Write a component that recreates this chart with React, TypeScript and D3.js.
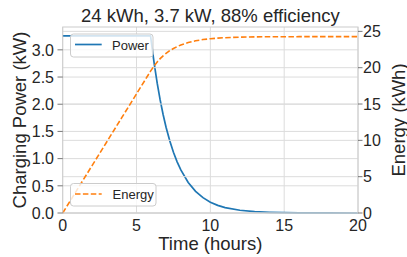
import React from "react";
import * as d3 from "d3";

const titleText = "24 kWh, 3.7 kW, 88% efficiency";
const timeHours = [0, 1, 2, 3, 4, 5, 5.95, 6.2, 6.4, 6.6, 6.8, 7, 7.25, 7.5, 7.75, 8, 8.5, 9, 9.5, 10, 10.5, 11, 12, 13, 14, 15, 16, 18, 20];
const powerKW = [3.256, 3.256, 3.256, 3.256, 3.256, 3.256, 3.256, 2.74, 2.387, 2.08, 1.812, 1.578, 1.328, 1.118, 0.941, 0.792, 0.561, 0.397, 0.282, 0.199, 0.141, 0.1, 0.05, 0.025, 0.013, 0.006, 0.003, 0.001, 0.0];
const energyKWh = [0, 3.28, 6.56, 9.84, 13.12, 16.4, 19.52, 20.27, 20.79, 21.24, 21.63, 21.97, 22.34, 22.64, 22.9, 23.12, 23.46, 23.7, 23.87, 23.99, 24.07, 24.13, 24.2, 24.24, 24.26, 24.26, 24.27, 24.27, 24.27];
const xTicks = [0, 5, 10, 15, 20];
const leftTicks = [0, 0.5, 1.0, 1.5, 2.0, 2.5, 3.0];
const rightTicks = [0, 5, 10, 15, 20, 25];

const W = 407, H = 257;
const L = 62.7, R = 358, T = 27, B = 213;
const FONT = "'Liberation Sans', Arial, sans-serif";
const TXT = "#262626";
const GRID = "#dcdcdc";

export default function App() {
  const x = d3.scaleLinear().domain([0, 20]).range([L, R]);
  const yL = d3.scaleLinear().domain([0, 3.42]).range([B, T]);
  const yR = d3.scaleLinear().domain([0, 25.6]).range([B, T]);
  const idx = timeHours.map((_, i) => i);
  const powerLine = d3.line<number>().x(i => x(timeHours[i])).y(i => yL(powerKW[i]));
  const energyLine = d3.line<number>().x(i => x(timeHours[i])).y(i => yR(energyKWh[i]));

  return (
    <svg width={W} height={H} style={{ position: "absolute", left: 0, top: 0, background: "#fff" }} fontFamily={FONT}>
      <text x={(L + R) / 2} y={22} textAnchor="middle" fontSize={18.5} fill={TXT}>{titleText}</text>
      {xTicks.map(t => (
        <line key={"gx" + t} x1={x(t)} x2={x(t)} y1={T} y2={B} stroke={GRID} strokeWidth={1} />
      ))}
      {leftTicks.map(t => (
        <line key={"gl" + t} x1={L} x2={R} y1={yL(t)} y2={yL(t)} stroke={GRID} strokeWidth={1} />
      ))}
      <path d={powerLine(idx) || ""} fill="none" stroke="#1f77b4" strokeWidth={1.7} />
      <rect x={70.5} y={34} width={82.5} height={23} rx={3} fill="#fff" fillOpacity={0.8} stroke="#cccccc" strokeWidth={1} />
      <line x1={75} x2={101.7} y1={44.5} y2={44.5} stroke="#1f77b4" strokeWidth={1.7} />
      <text x={112} y={49.5} fontSize={13} fill={TXT}>Power</text>
      {rightTicks.map(t => (
        <line key={"gr" + t} x1={L} x2={R} y1={yR(t)} y2={yR(t)} stroke={GRID} strokeWidth={1} />
      ))}
      <path d={energyLine(idx) || ""} fill="none" stroke="#ff7f0e" strokeWidth={1.6} strokeDasharray="5.5,2.4" />
      <rect x={70.5} y={183.5} width={85.5} height={22.5} rx={3} fill="#fff" fillOpacity={0.8} stroke="#cccccc" strokeWidth={1} />
      <line x1={75} x2={101.7} y1={194} y2={194} stroke="#ff7f0e" strokeWidth={1.6} strokeDasharray="5.5,2.4" />
      <text x={112.5} y={199} fontSize={13} fill={TXT}>Energy</text>
      <rect x={L} y={T} width={R - L} height={B - T} fill="none" stroke="#cccccc" strokeWidth={1} />
      {xTicks.map(t => (
        <text key={"xt" + t} x={x(t)} y={231} textAnchor="middle" fontSize={16} fill={TXT}>{t}</text>
      ))}
      {leftTicks.map(t => (
        <g key={"lt" + t}>
          <line x1={57.5} x2={L} y1={yL(t)} y2={yL(t)} stroke="#555" strokeWidth={0.8} />
          <text x={54} y={yL(t) + 5.7} textAnchor="end" fontSize={16} fill={TXT}>{d3.format(".1f")(t)}</text>
        </g>
      ))}
      {rightTicks.map(t => (
        <g key={"rt" + t}>
          <line x1={R} x2={R + 4.5} y1={yR(t)} y2={yR(t)} stroke="#555" strokeWidth={0.8} />
          <text x={363} y={yR(t) + 5.7} textAnchor="start" fontSize={16} fill={TXT}>{t}</text>
        </g>
      ))}
      <text x={(L + R) / 2} y={250} textAnchor="middle" fontSize={18.5} fill={TXT}>Time (hours)</text>
      <text transform={`translate(26,${(T + B) / 2}) rotate(-90)`} textAnchor="middle" fontSize={18.5} fill={TXT}>Charging Power (kW)</text>
      <text transform={`translate(404.5,${(T + B) / 2}) rotate(-90)`} textAnchor="middle" fontSize={18.5} fill={TXT}>Energy (kWh)</text>
    </svg>
  );
}
